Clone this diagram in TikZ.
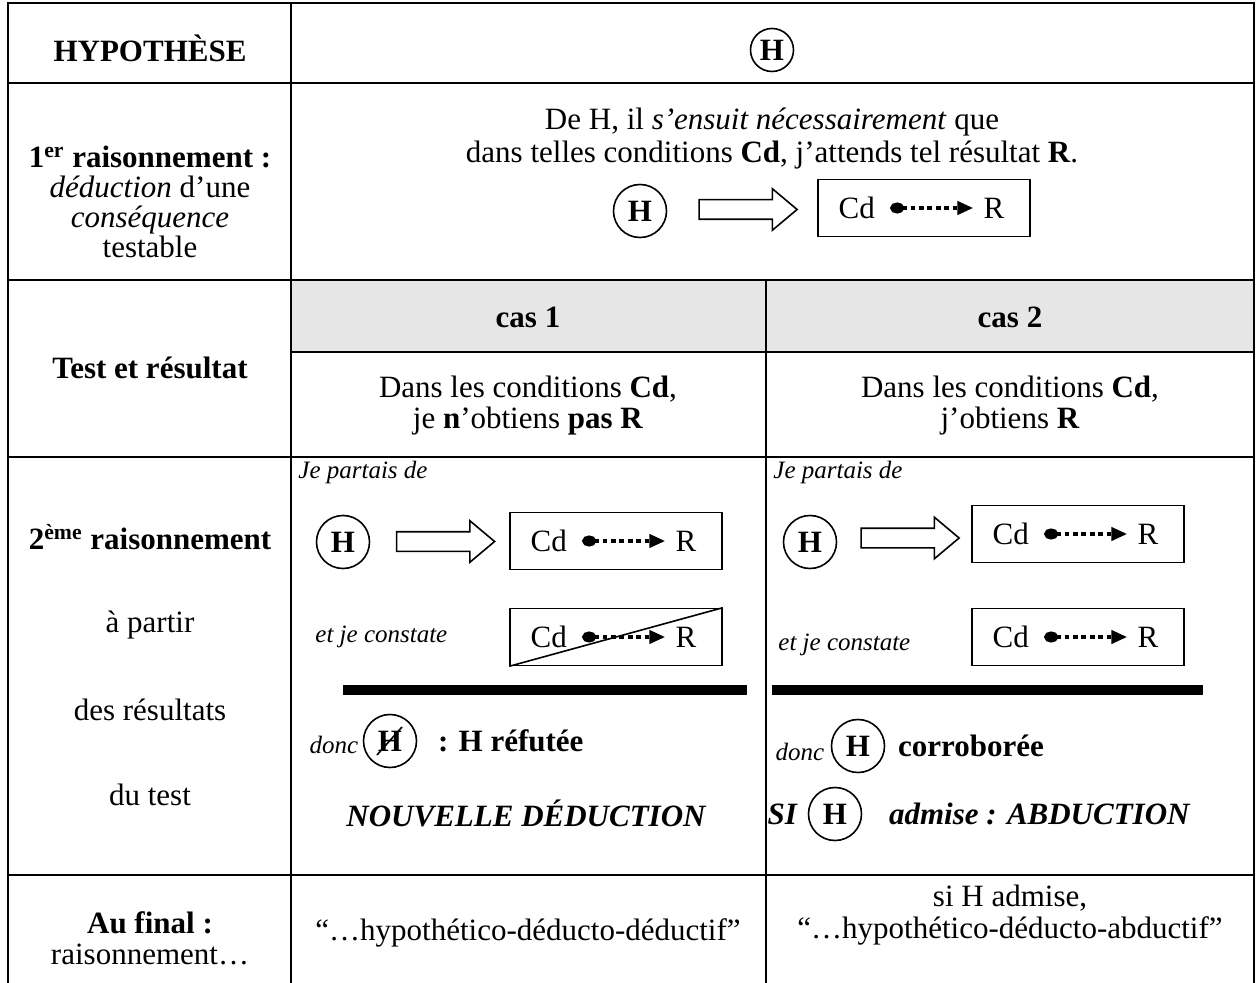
\documentclass[tikz,border=0pt]{standalone}
\usepackage{fontspec}
\setmainfont{Liberation Serif}
\usetikzlibrary{shapes.arrows, arrows.meta, positioning}
\definecolor{casgray}{HTML}{E6E6E6}

\begin{document}
\begin{tikzpicture}[x=0.5pt, y=-0.5pt]
    \fontsize{15.5}{17}\selectfont
    \tikzstyle{tableline} = [line width=1.3pt]
    \tikzstyle{hyp} = [circle, draw=black, line width=0.8pt, minimum size=26.5pt, inner sep=0pt, font=\bfseries]
    \tikzstyle{fat} = [single arrow, draw=black, line width=0.8pt, minimum height=49pt, inner sep=4.5pt, single arrow head extend=5.5pt, single arrow tip angle=80]
    \tikzstyle{cdbox} = [rectangle, draw=black, line width=0.8pt, minimum width=106pt, minimum height=28.5pt]
    \tikzstyle{dotarrow} = [line width=2pt, dash pattern=on 2.4pt off 1.8pt, {Ellipse[length=7pt,width=5.5pt]}-{Triangle[length=8pt,width=6.5pt]}, shorten <=7.5pt, shorten >=5pt]
    \tikzstyle{note} = [font=\fontsize{12.5}{14}\selectfont\itshape, inner sep=0pt]

    \useasboundingbox (0,0) rectangle (1257,983);

    % table
    \fill[casgray] (291,280) rectangle (1254,352);
    \draw[tableline] (8,983) -- (8,3) -- (1254,3) -- (1254,983);
    \draw[tableline] (291,3) -- (291,983);
    \draw[tableline] (766,280) -- (766,983);
    \foreach \y in {83,280,457,875} \draw[tableline] (8,\y) -- (1254,\y);
    \draw[tableline] (291,352) -- (1254,352);

    % hypothese
    \node[font=\bfseries] (hypo) at (150,48) {HYPOTHÈSE};
    \node[hyp, minimum size=21.5pt] (htop) at (772,50) {H};

    % premier raisonnement
    \node[align=center, font=\fontsize{15.5}{15}\selectfont] (first) at (150,202) {\textbf{1\textsuperscript{er} raisonnement :}\\ \textit{déduction} d’une\\ \textit{conséquence}\\ testable};
    \node (deH) at (772,122) {De H, il \textit{s’ensuit nécessairement} que};
    \node (dans) at (772,155) {dans telles conditions \textbf{Cd}, j’attends tel résultat \textbf{R}.};
    \node[hyp] (h0) at (640,211) {H};
    \node[cdbox] (boxa) at (924,208) {};

    % test et resultat
    \node[font=\bfseries] (test) at (150,368) {Test et résultat};
    \node[font=\bfseries] (cas1) at (528,317) {cas 1};
    \node[font=\bfseries] (cas2) at (1010,317) {cas 2};
    \node[align=center, font=\fontsize{15.5}{15.5}\selectfont] (obt1) at (528,406) {Dans les conditions \textbf{Cd},\\ je \textbf{n}’obtiens \textbf{pas R}};
    \node[align=center, font=\fontsize{15.5}{15.5}\selectfont] (obt2) at (1010,406) {Dans les conditions \textbf{Cd},\\ j’obtiens \textbf{R}};

    % second raisonnement
    \node[font=\bfseries] (second) at (150,537) {2\textsuperscript{ème} raisonnement};
    \node (apartir) at (150,625) {à partir};
    \node (desres) at (150,710) {des résultats};
    \node (dutest) at (150,795) {du test};

    % cas 1
    \node[note, anchor=west] (part1) at (298,472) {Je partais de};
    \node[hyp] (h1) at (343,542) {H};
    \node[cdbox] (boxb) at (616,541) {};
    \node[note, anchor=west] (const1) at (315,637) {et je constate};
    \node[cdbox] (boxd) at (616,637) {};
    \fill (343,685) rectangle (747,695);
    \node[hyp] (h3) at (390,741) {H};
    \draw[line width=0.8pt] ([shift={(-6.5pt,-7pt)}]h3.center) -- ([shift={(6pt,7pt)}]h3.center);
    \node[note, anchor=east] (donc1) at ([xshift=-2pt, yshift=-2pt]h3.west) {donc};
    \node[font=\bfseries, anchor=west] (refut) at ([xshift=5pt]h3.east) {: H réfutée};
    \node[font=\bfseries\itshape] (nouv) at (526,813) {NOUVELLE DÉDUCTION};

    % cas 2
    \node[note, anchor=west] (part2) at (773,472) {Je partais de};
    \node[hyp] (h2) at (810,542) {H};
    \node[cdbox] (boxc) at (1078,534) {};
    \node[note, anchor=west] (const2) at (778,645) {et je constate};
    \node[cdbox] (boxe) at (1078,637) {};
    \fill (772,685) rectangle (1203,695);
    \node[hyp] (h4) at (858,746) {H};
    \node[note, anchor=east] (donc2) at ([xshift=-3pt, yshift=-3pt]h4.west) {donc};
    \node[font=\bfseries, anchor=west] (corr) at ([xshift=1pt]h4.east) {corroborée};
    \node[hyp] (h5) at (835,814) {H};
    \node[font=\bfseries\itshape, anchor=east] (si) at ([xshift=0pt]h5.west) {SI};
    \node[font=\bfseries\itshape, anchor=west] (adm) at ([xshift=8pt]h5.east) {admise : ABDUCTION};

    % Cd -> R inside the boxes
    \foreach \n in {a,b,c,d,e} {
        \node[anchor=west, inner sep=0pt] (cd\n) at ([xshift=10.5pt]box\n.west) {Cd};
        \node[anchor=east, inner sep=0pt] (r\n) at ([xshift=-13pt]box\n.east) {R};
        \draw[dotarrow] (cd\n) -- (r\n);
    }
    \draw[line width=0.8pt] (boxd.south west) -- (boxd.north east);

    % hollow arrows
    \path (h0.east) -- node[fat] (fa) {} (boxa.west);
    \path (h1.east) -- node[fat] (fb) {} (boxb.west);
    \path (h2.east) -- node[fat] (fc) {} (boxc.west);

    % au final
    \node[align=center, font=\fontsize{15.5}{15.5}\selectfont] (final) at (150,938) {\textbf{Au final :}\\ raisonnement…};
    \node (hdd) at (528,933) {“…hypothético-déducto-déductif”};
    \node[align=center, font=\fontsize{15.5}{16}\selectfont] (hda) at (1010,915) {si H admise,\\ “…hypothético-déducto-abductif”};
\end{tikzpicture}
\end{document}
